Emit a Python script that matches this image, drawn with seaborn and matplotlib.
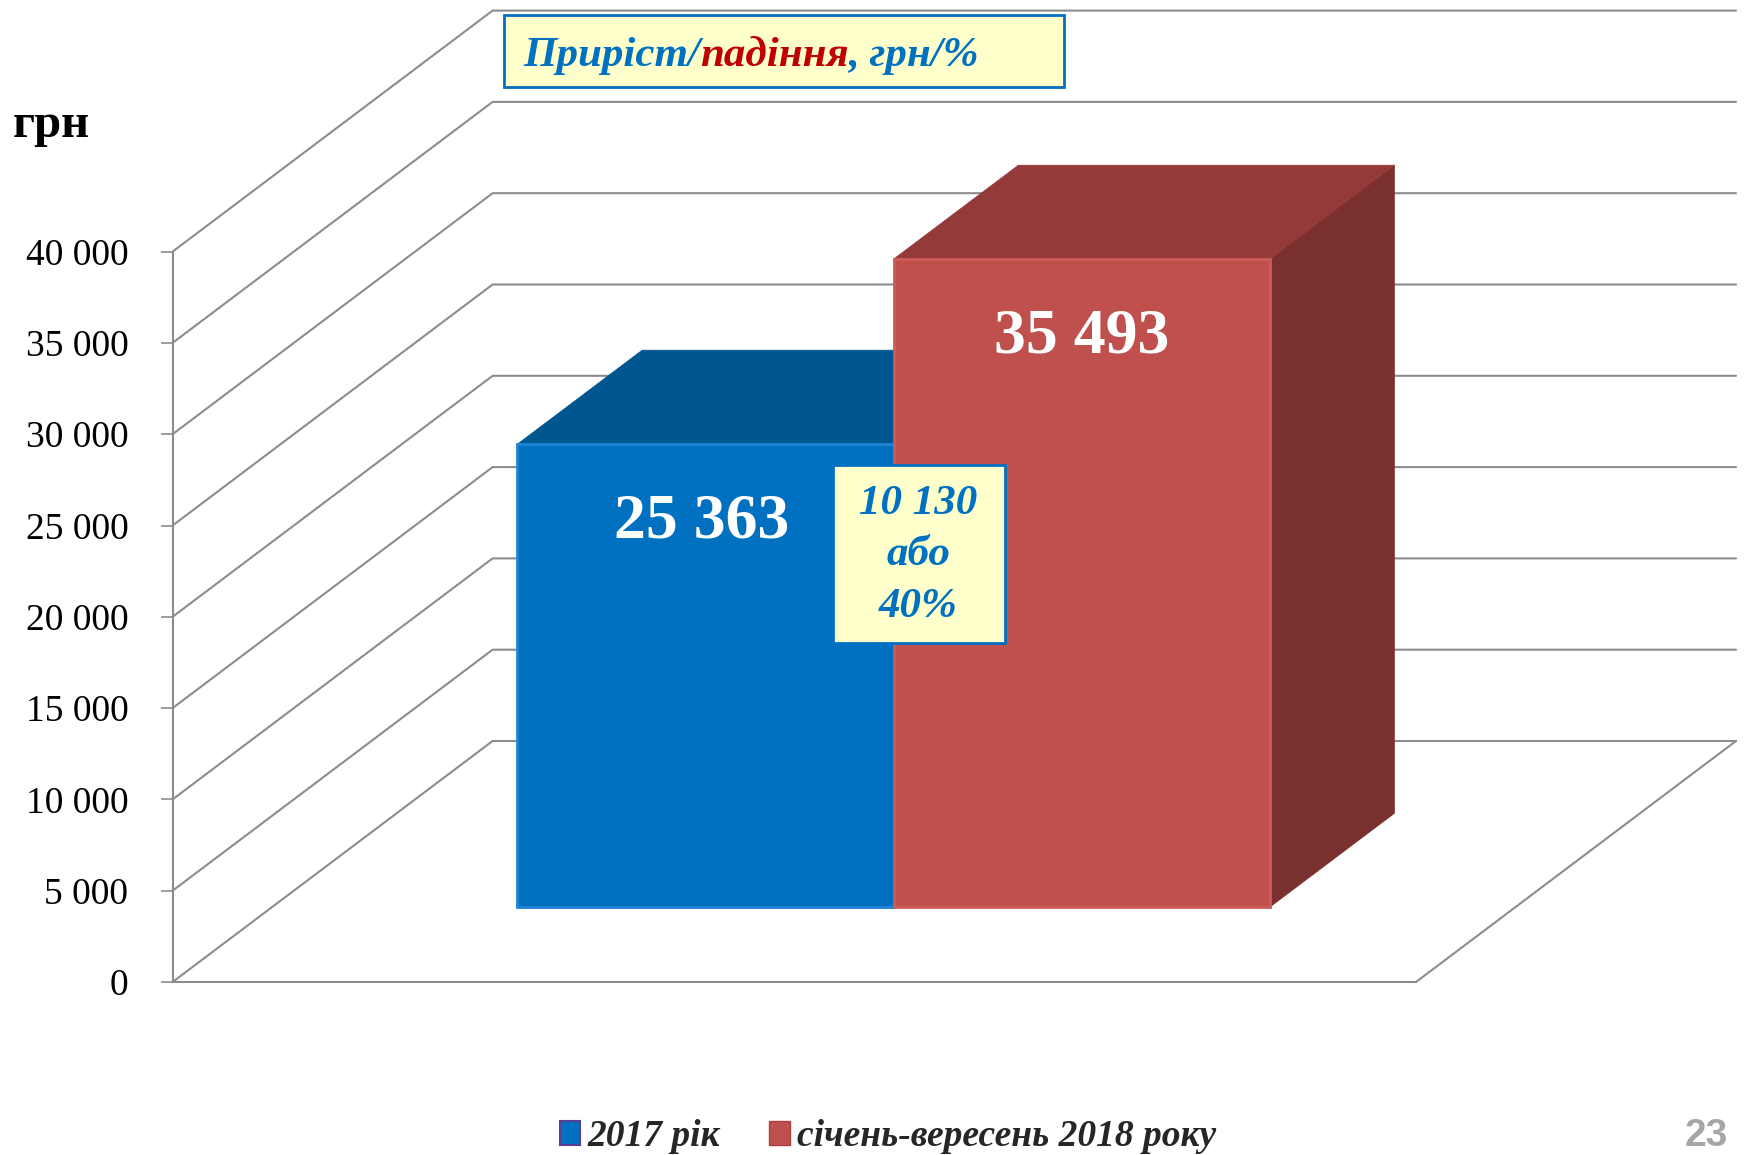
import numpy as np
import pandas as pd
import matplotlib
matplotlib.use("Agg")
import matplotlib.pyplot as plt
import matplotlib.transforms as mtrans
from matplotlib.patches import Polygon, Rectangle
from matplotlib.lines import Line2D
import seaborn as sns

# ---------------- data ----------------
category = ["Середня заробітна плата"]
series = ["2017 рік", "січень-вересень 2018 року"]
values = [25363, 35493]
value_labels = ["25 363", "35 493"]
y_ticks = [0, 5000, 10000, 15000, 20000, 25000, 30000, 35000, 40000]
y_tick_labels = ["0", "5 000", "10 000", "15 000", "20 000", "25 000",
                 "30 000", "35 000", "40 000"]
change_lines = ["10 130", "або", "40%"]
title_parts = ["Приріст/", "падіння", ", грн/%"]
unit_label = "грн"
page_number = "23"

# ---------------- style ----------------
BLUE, BLUE_TOP, BLUE_SIDE = "#0070C0", "#00578F", "#004A7D"
RED, RED_TOP, RED_SIDE = "#C0504D", "#943A38", "#7A302E"
FRONT_COLORS = [BLUE, RED]
TOP_COLORS = [BLUE_TOP, RED_TOP]
SIDE_COLORS = [BLUE_SIDE, RED_SIDE]
EDGE_COLORS = ["#1F84D6", "#CD5B57"]
GRID = "#8C8C8C"
TEXT_BLUE, TEXT_RED = "#0070C0", "#C00000"
NOTE_BG = "#FFFFCC"

sns.set_theme(style="white")
plt.rcParams["font.family"] = ["Liberation Serif", "DejaVu Serif"]

W, H = 1746, 1155
fig = plt.figure(figsize=(W / 100, H / 100), dpi=100)
fig.patch.set_facecolor("white")


def fx(px):
    return px / W


def fy(py):
    return 1 - py / H


ax_left, ax_right, ax_top, ax_bot = 172.6, 1416.0, 251.6, 982.0
ax = fig.add_axes([fx(ax_left), fy(ax_bot), (ax_right - ax_left) / W,
                   (ax_bot - ax_top) / H])
ax.set_facecolor("none")

df = pd.DataFrame({"cat": category * len(series), "series": series,
                   "value": values})
sns.barplot(data=df, x="cat", y="value", hue="series", hue_order=series,
            palette=FRONT_COLORS, width=0.605, saturation=1, ax=ax,
            errorbar=None, legend=False)
ax.set_xlim(-0.5, 0.5)
ax.set_ylim(y_ticks[0], y_ticks[-1])
ax.set_xlabel("")
ax.set_ylabel("")
ax.set_xticks([])
ax.set_yticks(y_ticks)
ax.set_yticklabels(y_tick_labels, fontsize=27)
ax.tick_params(axis="y", direction="out", length=8.3, width=1.2,
               color=GRID, pad=23.5, left=True, labelcolor="black")
for s in ["top", "right"]:
    ax.spines[s].set_visible(False)
for s in ["left", "bottom"]:
    ax.spines[s].set_color(GRID)
    ax.spines[s].set_linewidth(1.5)

# ---------------- pseudo-3D geometry (pixels) ----------------
WALL = np.array([320.0, 241.0])
F_FRONT, F_BACK = 0.31, 0.70
ID = mtrans.IdentityTransform()


def disp(x, y, f):
    return ax.transData.transform((x, y)) + f * WALL


x0, x1 = ax.get_xlim()
# back wall + side wall gridlines
for yv in y_ticks:
    a = disp(x0, yv, 0)
    b = disp(x0, yv, 1)
    c = disp(x1, yv, 1)
    fig.add_artist(Line2D([a[0], b[0], c[0]], [a[1], b[1], c[1]],
                          transform=ID, color=GRID, lw=1.5, zorder=-1))
# floor right edge
a = disp(x1, 0, 0)
b = disp(x1, 0, 1)
fig.add_artist(Line2D([a[0], b[0]], [a[1], b[1]], transform=ID,
                      color=GRID, lw=1.5, zorder=-1))

front_tr = ax.transData + mtrans.Affine2D().translate(*(F_FRONT * WALL))

for i, cont in enumerate(ax.containers):
    for r in cont.patches:
        x, w, h = r.get_x(), r.get_width(), r.get_height()
        r.set_transform(front_tr)
        r.set_clip_on(False)
        r.set_zorder(2 + i + 0.3)
        r.set_edgecolor(EDGE_COLORS[i])
        r.set_linewidth(2)
        top = [disp(x, h, F_FRONT), disp(x + w, h, F_FRONT),
               disp(x + w, h, F_BACK), disp(x, h, F_BACK)]
        side = [disp(x + w, 0, F_FRONT), disp(x + w, h, F_FRONT),
                disp(x + w, h, F_BACK), disp(x + w, 0, F_BACK)]
        for pts, col in [(side, SIDE_COLORS[i]), (top, TOP_COLORS[i])]:
            ax.add_artist(Polygon(pts, closed=True, transform=ID,
                                  facecolor=col, edgecolor=col, lw=0.5,
                                  clip_on=False, zorder=2 + i))
        ax.annotate(value_labels[i], xy=(x + w / 2, h), xycoords=front_tr,
                    xytext=(-4 if i == 0 else 0, -78),
                    textcoords="offset pixels",
                    ha="center", va="center", color="white", fontsize=46,
                    fontweight="bold", zorder=6)

# ---------------- unit label ----------------
fig.text(fx(13), fy(137), unit_label, fontsize=35, fontweight="bold",
         ha="left", va="baseline", color="black")

# ---------------- title box ----------------
fig.add_artist(Rectangle((fx(504), fy(87)), (1064 - 504) / W, (87 - 15) / H,
                         transform=fig.transFigure, facecolor=NOTE_BG,
                         edgecolor=TEXT_BLUE, lw=2, zorder=4))
title_colors = [TEXT_BLUE, TEXT_RED, TEXT_BLUE]
txts = []
for part, col in zip(title_parts, title_colors):
    t = fig.text(fx(523), fy(66), part, fontsize=31, fontweight="bold",
                 fontstyle="italic", color=col, ha="left", va="baseline",
                 zorder=5)
    txts.append(t)
fig.canvas.draw()
renderer = fig.canvas.get_renderer()
for k in range(1, len(txts)):
    bb = txts[k - 1].get_window_extent(renderer)
    txts[k].set_x(bb.x1 / W)

# ---------------- change note ----------------
fig.add_artist(Rectangle((fx(833), fy(643)), (1005 - 833) / W, (643 - 465) / H,
                         transform=fig.transFigure, facecolor=NOTE_BG,
                         edgecolor=TEXT_BLUE, lw=2, zorder=4))
for line, base in zip(change_lines, [514, 565, 617]):
    fig.text(fx(918), fy(base), line, fontsize=31, fontweight="bold",
             fontstyle="italic", color=TEXT_BLUE, ha="center",
             va="baseline", zorder=5)

# ---------------- legend ----------------
handles = [Rectangle((0, 0), 1, 1, facecolor=BLUE, edgecolor="#5A3E92", lw=1.5),
           Rectangle((0, 0), 1, 1, facecolor=RED, edgecolor="#A8423F", lw=1)]
fig.legend(handles, series, loc="center", bbox_to_anchor=(fx(888), fy(1137)),
           ncol=2, frameon=False,
           prop=dict(family="Liberation Serif", weight="bold", style="italic",
                     size=27),
           handlelength=0.55, handleheight=0.6, handletextpad=0.2,
           columnspacing=1.3)

# ---------------- page number ----------------
fig.text(fx(1706), fy(1154), page_number, ha="center", va="bottom",
         fontsize=28, fontweight="bold", color="#A6A6A6",
         family=["Liberation Sans Narrow", "Liberation Sans", "DejaVu Sans"])

fig.savefig("out.png", dpi=100, facecolor="white")
